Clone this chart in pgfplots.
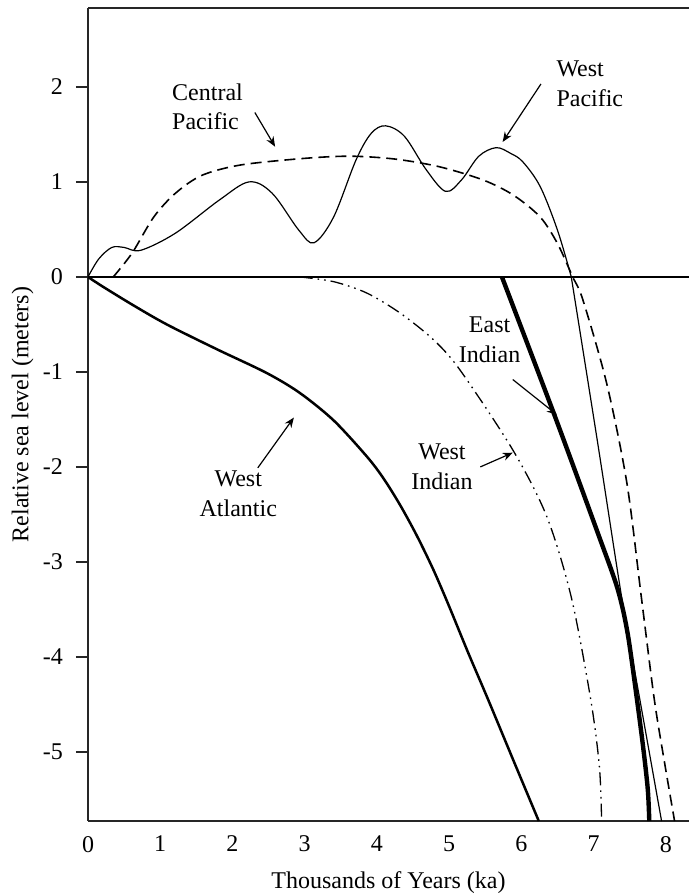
\documentclass[border=0pt]{standalone}
\usepackage{fontspec}
\setmainfont{Liberation Serif}
\usepackage{pgfplots}
\pgfplotsset{compat=1.18}
\usetikzlibrary{arrows.meta,calc}
\begin{document}
\begin{tikzpicture}[font=\fontsize{12}{14.8}\selectfont]
\begin{axis}[
  scale only axis, width=300.5pt, height=406.5pt,
  xmin=0, xmax=8.32, ymin=-5.726, ymax=2.83,
  axis x line=box, axis y line=left,
  axis line style={-, line width=1pt, black!85},
  xtick={0,1,2,3,4,5,6,7,8}, ytick={-5,-4,-3,-2,-1,0,1,2},
  x tick style={draw=none},
  y tick style={line width=1pt, black!85},
  tick align=outside, ytick pos=left, major tick length=6pt,
  /pgf/number format/assume math mode=true,
  tick label style={font=\fontsize{12}{14}\selectfont},
  xticklabel style={yshift=2pt},
  yticklabel style={xshift=-3pt},
  label style={font=\fontsize{12}{14}\selectfont},
  xlabel={Thousands of Years (ka)}, ylabel={Relative sea level (meters)},
  xlabel style={at={(axis description cs:0.5,-0.0763)}, anchor=center},
  ylabel style={at={(axis description cs:-0.109,0.5)}, anchor=center, rotate=0},
  clip=false,
]
% zero line
\addplot [black, line width=1.3pt] coordinates {(0,0) (8.32,0)};
% West Pacific (thin solid)
\addplot [black, line width=0.6pt, smooth, tension=0.55] coordinates {
 (0,0) (0.15,0.19) (0.33,0.31) (0.5,0.31) (0.73,0.28) (1.21,0.46) (1.82,0.81)
 (2.23,1.0) (2.55,0.88) (2.92,0.49) (3.13,0.36) (3.40,0.63) (3.71,1.23)
 (3.92,1.51) (4.12,1.59) (4.38,1.48) (4.68,1.13) (4.95,0.90) (5.17,1.02)
 (5.41,1.27) (5.65,1.36) (5.85,1.30) (6.02,1.21) (6.26,0.95) (6.5,0.49) (6.69,0)};
\addplot [black, line width=0.6pt, smooth] coordinates {
 (6.69,0) (7.05,-1.72) (7.40,-3.43) (7.64,-4.45) (7.94,-5.726)};
% Central Pacific (dashed)
\addplot [black, line width=0.8pt, dash pattern=on 5.5pt off 3pt, smooth] coordinates {
 (0.35,0) (0.61,0.25) (0.91,0.63) (1.21,0.88) (1.58,1.07) (2.13,1.18)
 (3.04,1.25) (3.65,1.27) (4.25,1.24) (4.86,1.16) (5.47,1.02) (5.89,0.86)
 (6.26,0.63) (6.5,0.35) (6.71,0) (6.85,-0.24) (7.18,-1.12) (7.46,-2.17)
 (7.66,-3.37) (7.84,-4.45) (7.99,-5.15) (8.12,-5.726)};
% East Indian (thick solid)
\addplot [black, line width=2.2pt, smooth] coordinates {
 (5.73,0) (6.46,-1.46) (7.05,-2.68) (7.33,-3.28) (7.47,-3.75) (7.60,-4.45)
 (7.69,-4.98) (7.75,-5.4) (7.77,-5.726)};
% West Indian (dash-dot-dot)
\addplot [black, line width=0.65pt, smooth,
  dash pattern=on 6.5pt off 2.5pt on 0.8pt off 2.5pt on 0.8pt off 2.5pt] coordinates {
 (2.93,0) (3.4,-0.05) (3.86,-0.17) (4.32,-0.38) (4.78,-0.66) (5.15,-0.98)
 (5.88,-1.82) (6.35,-2.52) (6.69,-3.37) (6.96,-4.45) (7.08,-5.16) (7.11,-5.726)};
% West Atlantic (medium solid)
\addplot [black, line width=1.25pt, smooth] coordinates {
 (0,0) (0.2,-0.1) (0.63,-0.3) (1.09,-0.5) (1.78,-0.76) (2.47,-1.01)
 (2.93,-1.22) (3.40,-1.51) (3.86,-1.89) (4.09,-2.12) (4.32,-2.40) (4.55,-2.72)
 (4.78,-3.08) (4.99,-3.45) (5.26,-3.95) (5.54,-4.45) (5.89,-5.09) (6.24,-5.726)};
% labels and arrows
\node[anchor=west, align=left, inner sep=0pt] at (axis cs:1.16,1.79) {Central\\Pacific};
\draw[-{Stealth[length=5pt,width=4pt]}, line width=0.6pt] (axis cs:2.31,1.73) -- (axis cs:2.59,1.37);
\node[anchor=west, align=left, inner sep=0pt] at (axis cs:6.48,2.03) {West\\Pacific};
\draw[-{Stealth[length=5pt,width=4pt]}, line width=0.6pt] (axis cs:6.27,2.03) -- (axis cs:5.74,1.42);
\node[align=center, inner sep=0pt] at (axis cs:5.56,-0.66) {East\\Indian};
\draw[-{Stealth[length=5pt,width=4pt]}, line width=0.6pt] (axis cs:5.88,-1.08) -- (axis cs:6.49,-1.45);
\node[align=center, inner sep=0pt] at (axis cs:4.90,-2.0) {West\\Indian};
\draw[-{Stealth[length=5pt,width=4pt]}, line width=0.6pt] (axis cs:5.43,-2.0) -- (axis cs:5.88,-1.85);
\node[align=center, inner sep=0pt] at (axis cs:2.08,-2.28) {West\\Atlantic};
\draw[-{Stealth[length=5pt,width=4pt]}, line width=0.6pt] (axis cs:2.35,-2.01) -- (axis cs:2.85,-1.48);
\end{axis}
\pgfresetboundingbox
\path[use as bounding box] ($(current axis.south west)+(-44pt,-36.5pt)$) rectangle ($(current axis.north east)+(0pt,4pt)$);
\end{tikzpicture}
\end{document}
